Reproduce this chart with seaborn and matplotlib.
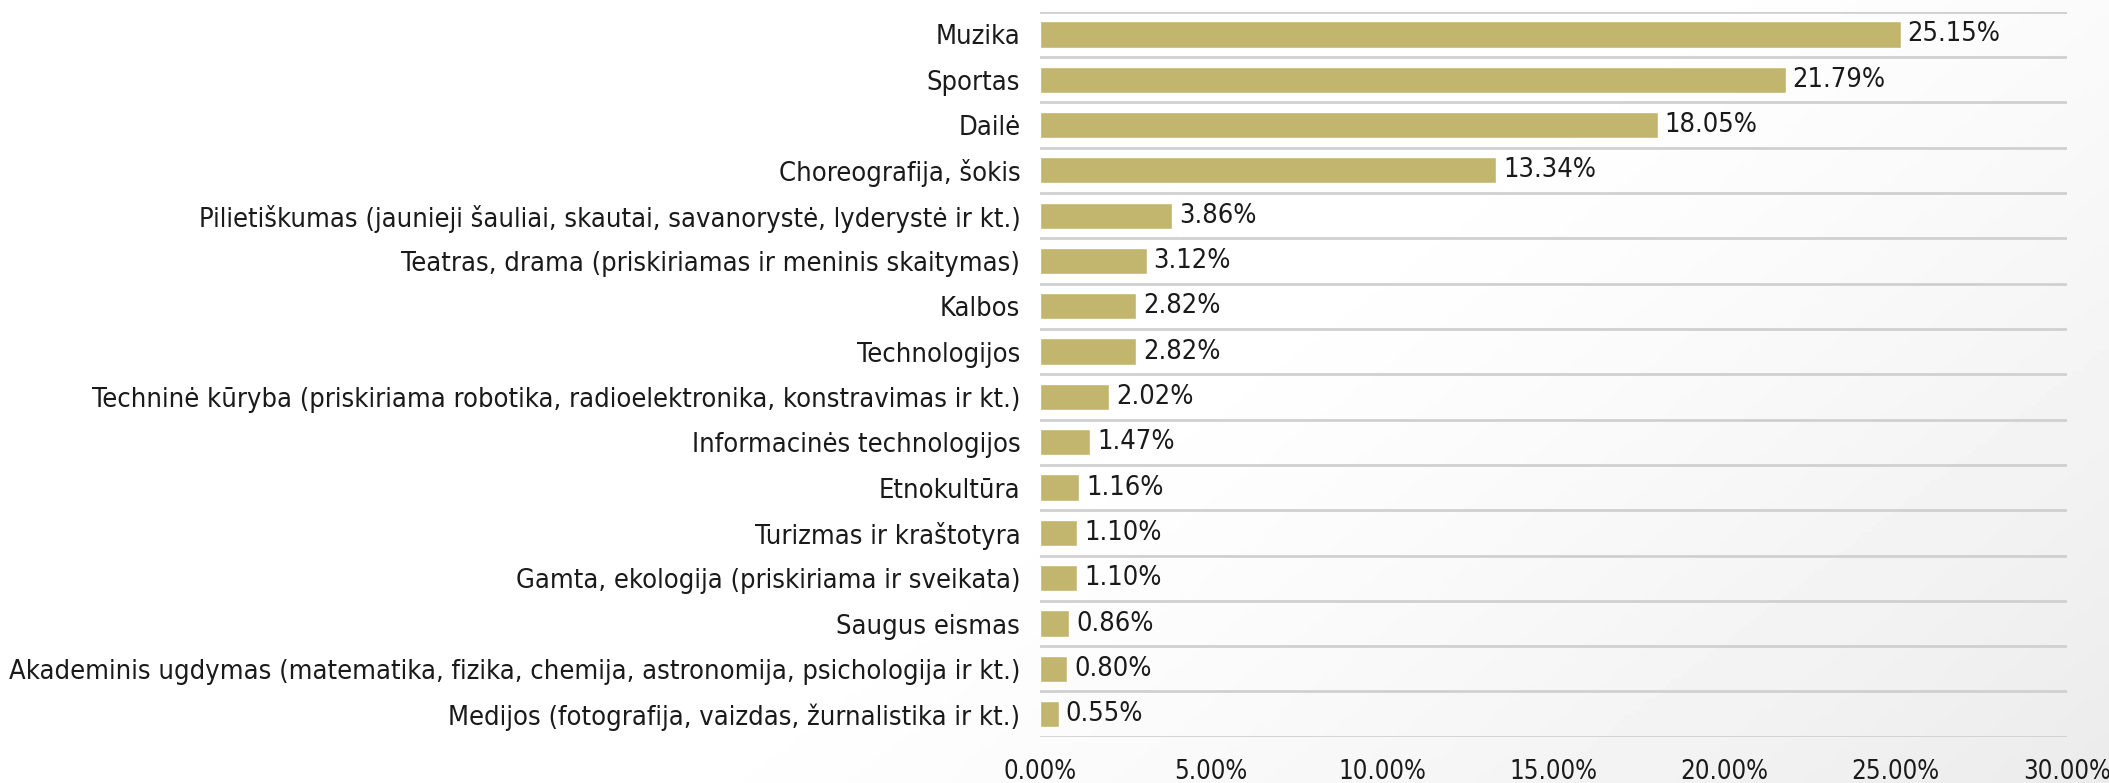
import numpy as np
import pandas as pd
import matplotlib
matplotlib.use("Agg")
import matplotlib.pyplot as plt
import seaborn as sns

categories = [
    "Muzika",
    "Sportas",
    "Dailė",
    "Choreografija, šokis",
    "Pilietiškumas (jaunieji šauliai, skautai, savanorystė, lyderystė ir kt.)",
    "Teatras, drama (priskiriamas ir meninis skaitymas)",
    "Kalbos",
    "Technologijos",
    "Techninė kūryba (priskiriama robotika, radioelektronika, konstravimas ir kt.)",
    "Informacinės technologijos",
    "Etnokultūra",
    "Turizmas ir kraštotyra",
    "Gamta, ekologija (priskiriama ir sveikata)",
    "Saugus eismas",
    "Akademinis ugdymas (matematika, fizika, chemija, astronomija, psichologija ir kt.)",
    "Medijos (fotografija, vaizdas, žurnalistika ir kt.)",
]
shares = [25.15, 21.79, 18.05, 13.34, 3.86, 3.12, 2.82, 2.82, 2.02, 1.47,
          1.16, 1.10, 1.10, 0.86, 0.80, 0.55]
x_ticks = [0, 5, 10, 15, 20, 25, 30]

df = pd.DataFrame({"category": categories, "share": shares})

sns.set_style("white")
plt.rcParams["font.family"] = ["DejaVu Sans"]
plt.rcParams["font.stretch"] = "condensed"

fig = plt.figure(figsize=(21.09, 7.83), dpi=100)

# faint grey shading towards the lower right corner (slide background)
bg = fig.add_axes([0, 0, 1, 1], zorder=-10)
gx, gy = np.meshgrid(np.linspace(0, 1, 400), np.linspace(0, 1, 150))  # row 0 = top
shade = np.clip((gx - 0.6) / 0.4 * 0.5 + gy * 0.6 - 0.2, 0, 1) ** 1.3
bg.imshow(1 - 0.09 * shade, cmap="gray", vmin=0, vmax=1, aspect="auto",
          extent=[0, 1, 0, 1])
bg.axis("off")

ax = fig.add_axes([0.493, 0.059, 0.487, 0.926])
ax.patch.set_alpha(0)

sns.barplot(data=df, y="category", x="share", orient="h", color="#C2B66E",
            saturation=1, width=0.58, ax=ax)

labels = [f"{v:.2f}%" for v in shares]
ax.bar_label(ax.containers[0], labels=labels, padding=5, fontsize=19.5, color="#1a1a1a")

ax.set_xlim(0, 30)
ax.set_ylim(len(categories) - 0.5, -0.5)
ax.set_xticks(x_ticks)
ax.set_xticklabels([f"{t:.2f}%" for t in x_ticks], fontsize=18.5, color="#1a1a1a")
ax.tick_params(axis="x", length=0, pad=16)
ax.tick_params(axis="y", length=0, pad=14, labelsize=19.5, labelcolor="#1a1a1a")
ax.set_yticks(np.arange(-0.5, len(categories)), minor=True)
ax.tick_params(axis="y", which="minor", length=0)
ax.grid(axis="y", which="minor", color="#d0d0d0", linewidth=2)
ax.grid(axis="y", which="major", visible=False)
ax.grid(axis="x", visible=False)
ax.set_axisbelow(True)
ax.set_xlabel("")
ax.set_ylabel("")
for s in ax.spines.values():
    s.set_visible(False)

fig.savefig("out.png", dpi=100)
